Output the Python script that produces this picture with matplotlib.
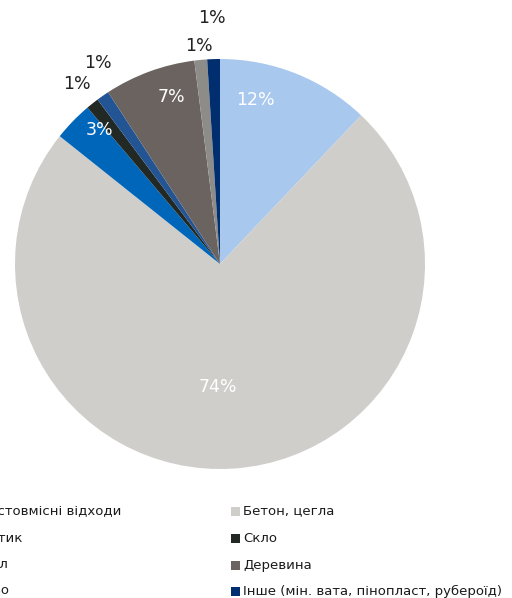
import matplotlib
matplotlib.use('Agg')
import matplotlib.pyplot as plt
from matplotlib.patches import Rectangle
import numpy as np

categories = ['Азбестовмісні відходи', 'Бетон, цегла', 'Пластик', 'Скло',
              'Метал', 'Деревина', 'Залізо', 'Інше (мін. вата, пінопласт, рубероїд)']
values = [12.1, 73.7, 3.1, 1.0, 1.0, 7.2, 1.0, 1.0]
pct_labels = ['12%', '74%', '3%', '1%', '1%', '7%', '1%', '1%']
colors = ['#A9C8EE', '#D0CECB', '#0066B9', '#222823', '#235493', '#6B6360', '#8E8C89', '#002E6E']

# label placement styles: (angle offset deg, radial factor, color)
label_style = [(9.6, 0.82, 'white'), (-5, 0.60, 'white'), (-4, 0.88, 'white'),
               (0, 1.12, '#222222'), (-3.6, 1.15, '#222222'), (-4, 0.85, 'white'),
               (0, 1.07, '#222222'), (0, 1.20, '#222222')]

W, H = 512, 598
fig = plt.figure(figsize=(W / 100, H / 100), dpi=100)
cx, cy, R = 220, 264, 205
ax = fig.add_axes([(cx - R) / W, (H - cy - R) / H, 2 * R / W, 2 * R / H])
ax.pie(values, colors=colors, startangle=90, counterclock=False, radius=1,
       wedgeprops=dict(linewidth=0))
ax.set_xlim(-1, 1)
ax.set_ylim(-1, 1)
ax.set_aspect('equal')
ax.axis('off')

total = sum(values)
cum = np.cumsum([0] + values[:-1])
for v, c0, lab, (off, r, col) in zip(values, cum, pct_labels, label_style):
    mid = 90 - (c0 + v / 2) / total * 360 + off
    a = np.deg2rad(mid)
    ax.text(r * np.cos(a), r * np.sin(a), lab, ha='center', va='center',
            fontsize=12.5, color=col, family='DejaVu Sans', clip_on=False)

# legend (2 columns, row-major)
row_y = [511, 538, 565, 591]
col_x = [-47, 231]
msz = 9
for i, name in enumerate(categories):
    r_i, c_i = divmod(i, 2)
    x = col_x[c_i]
    y = row_y[r_i]
    fig.add_artist(Rectangle(((x) / W, (H - y - msz / 2) / H), msz / W, msz / H,
                             transform=fig.transFigure, color=colors[i], lw=0))
    fig.text((x + 12) / W, (H - y) / H, name, ha='left', va='center',
             fontsize=9.5, color='#1a1a1a', family='DejaVu Sans')

fig.savefig('out.png', dpi=100)
